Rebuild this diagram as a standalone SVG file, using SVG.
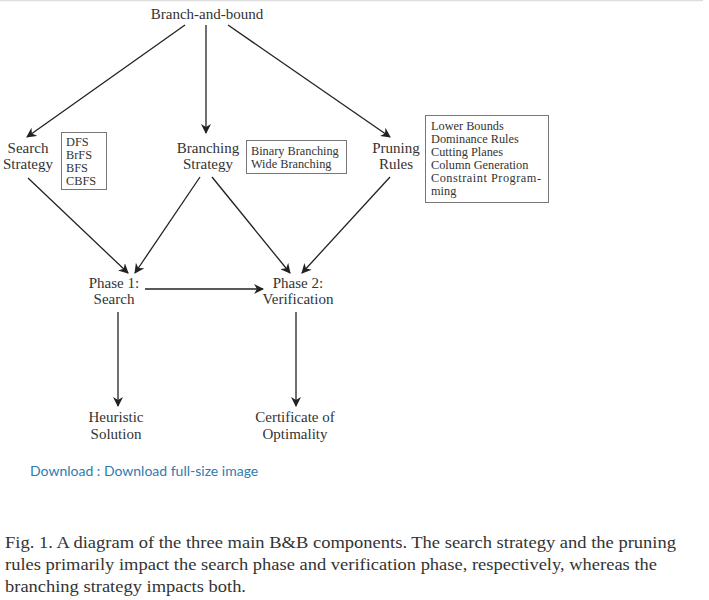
<svg xmlns="http://www.w3.org/2000/svg" width="709" height="600" viewBox="0 0 709 600">
<defs>
<marker id="ah" viewBox="0 0 10 10" refX="9" refY="5" markerWidth="10" markerHeight="10" markerUnits="userSpaceOnUse" orient="auto">
<path d="M0,0 L10,5 L0,10 L3,5 Z" fill="#222"/>
</marker>
<style>
.t{font-family:"Liberation Serif","DejaVu Serif",serif;font-size:15px;fill:#333;text-anchor:middle}
.s{font-family:"Liberation Serif","DejaVu Serif",serif;font-size:12.3px;fill:#333}
.box{fill:none;stroke:#777;stroke-width:1}
.e{stroke:#222;stroke-width:1.3;fill:none;marker-end:url(#ah)}
.cap{font-family:"Liberation Serif","DejaVu Serif",serif;font-size:16.5px;fill:#333}
.dl{font-family:"Lato","Open Sans",sans-serif;font-size:14px;fill:#2e7bb0}
</style>
</defs>
<rect width="709" height="600" fill="#fff"/>
<line x1="0" y1="0.5" x2="703" y2="0.5" stroke="#ddd" stroke-width="1.5"/>
<g id="bnb"><text class="t" x="207" y="19">Branch-and-bound</text></g>
<g id="search-strategy"><text class="t" x="28" y="153">Search</text><text class="t" x="28" y="169">Strategy</text></g>
<g id="search-list"><rect class="box" x="61.5" y="132.5" width="45" height="57"/>
<text class="s" x="66" y="146">DFS</text><text class="s" x="66" y="159">BrFS</text><text class="s" x="66" y="172">BFS</text><text class="s" x="66" y="185">CBFS</text></g>
<g id="branching-strategy"><text class="t" x="208" y="153">Branching</text><text class="t" x="208" y="169">Strategy</text></g>
<g id="branching-list"><rect class="box" x="246.5" y="140.5" width="100" height="33"/>
<text class="s" x="251" y="155">Binary Branching</text><text class="s" x="251" y="168">Wide Branching</text></g>
<g id="pruning-rules"><text class="t" x="396" y="153">Pruning</text><text class="t" x="396" y="169">Rules</text></g>
<g id="pruning-list"><rect class="box" x="425.5" y="115.5" width="123" height="87"/>
<text class="s" x="431" y="130">Lower Bounds</text><text class="s" x="431" y="143">Dominance Rules</text><text class="s" x="431" y="156">Cutting Planes</text><text class="s" x="431" y="169">Column Generation</text><text class="s" x="431" y="182" textLength="110">Constraint  Program-</text><text class="s" x="431" y="195">ming</text></g>
<g id="phase1"><text class="t" x="114" y="288">Phase 1:</text><text class="t" x="114" y="304">Search</text></g>
<g id="phase2"><text class="t" x="298" y="288">Phase 2:</text><text class="t" x="298" y="304">Verification</text></g>
<g id="heuristic"><text class="t" x="116" y="422">Heuristic</text><text class="t" x="116" y="439">Solution</text></g>
<g id="certificate"><text class="t" x="295" y="422">Certificate of</text><text class="t" x="295" y="439">Optimality</text></g>
<g id="connectors">
<line class="e" x1="185" y1="25" x2="27" y2="137"/>
<line class="e" x1="206" y1="25" x2="206" y2="133"/>
<line class="e" x1="228" y1="25" x2="390" y2="137"/>
<line class="e" x1="28" y1="178" x2="128" y2="273"/>
<line class="e" x1="200" y1="177" x2="135" y2="273"/>
<line class="e" x1="212" y1="177" x2="290" y2="273"/>
<line class="e" x1="390" y1="177" x2="302" y2="273"/>
<line class="e" x1="145" y1="289" x2="263" y2="289"/>
<line class="e" x1="118" y1="312" x2="118" y2="406"/>
<line class="e" x1="296" y1="312" x2="296" y2="406"/>
</g>
<text class="dl" x="30" y="476">Download : Download full-size image</text>
<text class="cap" x="5" y="548" textLength="671" lengthAdjust="spacingAndGlyphs">Fig. 1. A diagram of the three main B&amp;B components. The search strategy and the pruning</text>
<text class="cap" x="5" y="570" textLength="652" lengthAdjust="spacingAndGlyphs">rules primarily impact the search phase and verification phase, respectively, whereas the</text>
<text class="cap" x="5" y="592" textLength="241" lengthAdjust="spacingAndGlyphs">branching strategy impacts both.</text>
</svg>
